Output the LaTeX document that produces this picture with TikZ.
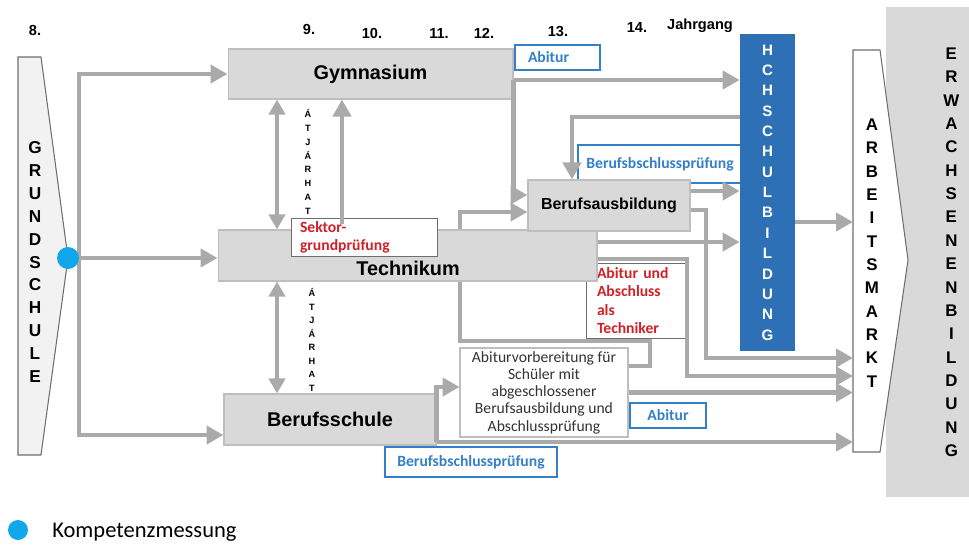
\documentclass[tikz,border=0pt]{standalone}
\usepackage{fontspec}
\setmainfont{Liberation Sans}
\newfontfamily\carlito{Carlito}
\usetikzlibrary{arrows.meta,calc}

\definecolor{flowgray}{RGB}{170,170,170}
\definecolor{boxgray}{RGB}{217,217,217}
\definecolor{boxline}{RGB}{190,190,190}
\definecolor{hsblue}{RGB}{46,112,182}
\definecolor{tagblue}{RGB}{52,128,200}
\definecolor{kmblue}{RGB}{16,168,234}
\definecolor{techred}{RGB}{210,32,40}
\definecolor{edgegray}{RGB}{110,110,110}

\begin{document}
\begin{tikzpicture}[x=0.02cm, y=-0.02cm,
    box/.style={draw=boxline, fill=boxgray, line width=0.6pt, font=\bfseries\fontsize{11.3}{13}\selectfont},
    tag/.style={draw=tagblue, fill=white, line width=0.7pt, text=tagblue, font=\carlito\bfseries\fontsize{8.9}{10}\selectfont},
    note/.style={draw=edgegray, fill=white, line width=0.5pt, text=techred, align=left, font=\carlito\bfseries\fontsize{8.9}{10.4}\selectfont},
    flow/.style={draw=flowgray, line width=2.5pt, -{Triangle[length=0.34cm,width=0.36cm]}},
    twoway/.style={draw=flowgray, line width=2.2pt, {Triangle[length=0.3cm,width=0.32cm]}-{Triangle[length=0.3cm,width=0.32cm]}},
    link/.style={draw=flowgray, line width=2.5pt},
    letters/.style={align=center, font=\bfseries\fontsize{9.6}{13.3}\selectfont},
    year/.style={font=\bfseries\fontsize{8.3}{10}\selectfont}]
  \tikzstyle{every node}+=[inner sep=0pt]
  \useasboundingbox (0,0) rectangle (969,547);
  \clip (0,0) rectangle (969,547);

  \node[year] (y8) at (35,30) {8.};
  \node[year] (y9) at (309,29) {9.};
  \node[year] (y10) at (372,33) {10.};
  \node[year] (y11) at (439,33) {11.};
  \node[year] (y12) at (484,33) {12.};
  \node[year] (y13) at (558,31) {13.};
  \node[year] (y14) at (637,27) {14.};
  \node[year] (yj) at (700,26) {Jahrgang};

  \node[fill=boxgray, anchor=north west, minimum width=2.6cm, minimum height=9.8cm, letters] (eb) at (886,7)
    {E\\R\\W\\A\\C\\H\\S\\E\\N\\E\\N\\B\\I\\L\\D\\U\\N\\G};

  \draw[draw=edgegray, fill=black!5, line width=0.6pt] (18,57) -- (41,57) -- (68,258) -- (41,455) -- (18,455) -- cycle;
  \coordinate (gsTip) at (68,258);
  \node[letters, font=\bfseries\fontsize{9.8}{13}\selectfont] (gs) at (35,262) {G\\R\\U\\N\\D\\S\\C\\H\\U\\L\\E};

  \draw[draw=edgegray, fill=white, line width=0.6pt] (853,50) -- (880,50) -- (908,260) -- (880,452) -- (853,452) -- cycle;
  \coordinate (amL) at (853,258);
  \node[letters] (am) at (872,253) {A\\R\\B\\E\\I\\T\\S\\M\\A\\R\\K\\T};

  \node[note, text width=1.56cm, inner xsep=0.22cm, minimum height=1.5cm] (tq) at (636,300.5) {Abitur und\\Abschluss\\als\\Techniker};

  \node[box, minimum width=5.7cm, minimum height=1cm] (gym) at (370.5,74) {Gymnasium};
  \node[box, minimum width=7.58cm, minimum height=1.02cm] (tech) at (407.5,255.5) {};
  \node[font=\bfseries\fontsize{11.3}{13}\selectfont] (techname) at (408,268) {Technikum};
  \node[box, minimum width=4.24cm, minimum height=1.02cm] (bs) at (330,419.5) {Berufsschule};

  \node[tag, text width=1.18cm, inner xsep=0.26cm, align=left, minimum height=0.5cm] (abi1) at (557.5,57.5) {Abitur};
  \node[tag, minimum width=3.28cm, minimum height=0.76cm] (bap1) at (660,164) {Berufsbschlussprüfung};
  \node[tag, minimum width=1.52cm, minimum height=0.5cm] (abi2) at (668,415.5) {Abitur};
  \node[tag, minimum width=3.44cm, minimum height=0.6cm] (bap2) at (471,462) {Berufsbschlussprüfung};

  \node[box, font=\bfseries\fontsize{9.1}{11}\selectfont, minimum width=3.24cm, minimum height=1.02cm] (ba) at (609,205.5) {Berufsausbildung};
  \node[note, text width=2.56cm, inner xsep=0.18cm, minimum height=0.76cm] (sek) at (364,237) {Sektor-\\grundprüfung};
  \node[draw=boxline, fill=white, line width=0.6pt, align=center, minimum width=3.36cm, minimum height=1.78cm,
    font=\carlito\fontsize{8.9}{9.8}\selectfont, text=black!80] (abv) at (544,392.5)
    {Abiturvorbereitung für\\Schüler mit\\abgeschlossener\\Berufsausbildung und\\Abschlussprüfung};

  \node[fill=hsblue, minimum width=1.1cm, minimum height=6.34cm, text=white, letters, font=\bfseries\fontsize{8.6}{11.58}\selectfont] (hs) at (767.5,192.5)
    {H\\C\\H\\S\\C\\H\\U\\L\\B\\I\\L\\D\\U\\N\\G};

  \node[font=\bfseries\fontsize{5.2}{7.9}\selectfont, align=center] (atj1) at (308,162) {Á\\T\\J\\Á\\R\\H\\A\\T};
  \node[font=\bfseries\fontsize{5.2}{7.7}\selectfont, align=center] (atj2) at (312,340) {Á\\T\\J\\Á\\R\\H\\A\\T};

  \coordinate (trunk) at (79,258);
  \draw[flow] (trunk) |- (gym.west);
  \draw[flow] (trunk) |- (bs.west |- 0,435);
  \draw[flow] (gsTip) -- (gsTip -| tech.west);

  \draw[twoway] (gym.south -| 277,0) -- (tech.north -| 277,0);
  \draw[twoway] (tech.south -| 277,0) -- (bs.north -| 277,0);
  \draw[flow] ($(sek.north -| 342,0)+(0,6)$) -- (gym.south -| 342,0);

  \coordinate (gymOut) at (gym.east |- 0,80);
  \draw[flow] (gymOut) -- (gymOut -| hs.west);
  \draw[flow] (gymOut) |- (ba.west |- 0,195);
  \draw[flow] (hs.west |- 0,117) -| (ba.north -| 572,0);
  \draw[flow] (ba.east |- 0,191) -- (hs.west |- 0,191);
  \draw[flow] (tech.north -| 460,0) |- (ba.west |- 0,212);
  \draw[flow] (tech.east |- 0,242) -- (hs.west |- 0,242);
  \draw[flow] (hs.east |- 0,222) -- (amL |- 0,222);

  \draw[flow] (ba.east |- 0,210) -| (706,358) -- (amL |- 0,358);
  \draw[flow] (tech.east |- 0,259) -| (687,376) -- (amL |- 0,376);
  \draw[link] (tech.south -| 460,0) |- (650,341) |- (abv.east |- 0,366);
  \draw[flow] (abv.east) -- (amL |- abv.east);

  \coordinate (bsOut) at (bs.east |- 0,442);
  \draw[flow] (bsOut) |- (abv.west |- 0,387);
  \draw[flow] (bsOut) -- (amL |- bsOut);

  \node[circle, fill=kmblue, minimum size=0.44cm] (km) at (gsTip) {};
  \node[circle, fill=kmblue, minimum size=0.4cm] (kmkey) at (18,530) {};
  \node[anchor=west, font=\carlito\fontsize{12.8}{14}\selectfont] (kmtext) at (52,532) {Kompetenzmessung};
\end{tikzpicture}
\end{document}
